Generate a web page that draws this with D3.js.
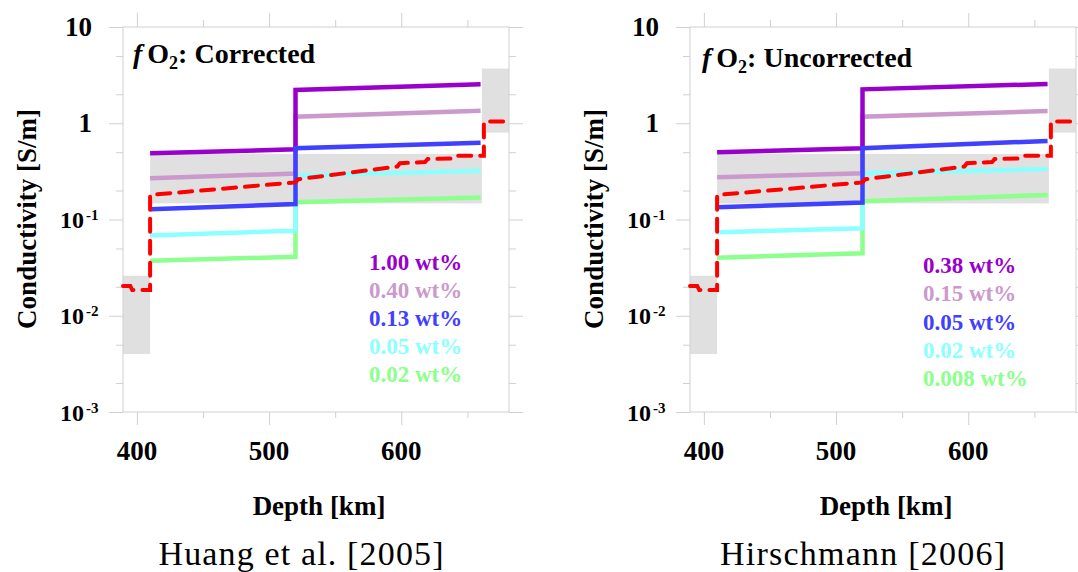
<!DOCTYPE html>
<html>
<head>
<meta charset="utf-8">
<script src="https://cdn.jsdelivr.net/npm/d3@7.9.0/dist/d3.min.js"></script>
<style>
  body { margin: 0; background: #fff; }
  svg { display: block; }
  text { font-family: "Liberation Serif", "Times New Roman", serif; }
</style>
</head>
<body>
<svg id="chart" width="1078" height="572"></svg>
<script>
// ---- data ----
const depthDomain = [389.5, 681.5];
const condDomain = [0.001, 10];
const depthTicks = [400, 450, 500, 550, 600, 650];
const depthLabels = [400, 500, 600];
const condMajor = [10, 1, 0.1, 0.01, 0.001];
const condMinor = [5, 2, 0.5, 0.2, 0.05, 0.02, 0.005, 0.002];
const condLabels = [["10", ""], ["1", ""], ["10", "-1"], ["10", "-2"], ["10", "-3"]];

// observed conductivity ranges (grey boxes)
const obsFrom = [389.5, 410, 661];
const obsTo = [410, 661, 681.5];
const obsLow = [0.004, 0.147, 0.80];
const obsHigh = [0.026, 0.48, 3.7];

// reference 1-D profile (red dashed)
const refDepth = [389.5, 395, 396.5, 410, 410, 520, 522, 597, 599, 618, 620, 641, 643, 662.5, 662.5, 681.5];
const refCond  = [0.0204, 0.0204, 0.0185, 0.0185, 0.18, 0.243, 0.262, 0.355, 0.385, 0.395, 0.425, 0.43, 0.46, 0.46, 1.04, 1.04];

// water content curves: values at 410, 520 (upper mantle), 520, 660 (wadsleyite)
const curveDepth = [410, 520, 520, 660];
const curveColors = ["#9900cc", "#cc99cc", "#4040ff", "#8cffff", "#8cff8c"];

const huangLabels = ["1.00 wt%", "0.40 wt%", "0.13 wt%", "0.05 wt%", "0.02 wt%"];
const huangPurple = [0.488, 0.536, 2.22, 2.54];
const huangPink   = [0.268, 0.300, 1.17, 1.35];
const huangBlue   = [0.128, 0.145, 0.55, 0.628];
const huangCyan   = [0.068, 0.0766, 0.286, 0.321];
const huangGreen  = [0.0373, 0.041, 0.151, 0.169];

const hirschLabels = ["0.38 wt%", "0.15 wt%", "0.05 wt%", "0.02 wt%", "0.008 wt%"];
const hirschPurple = [0.499, 0.55, 2.25, 2.56];
const hirschPink   = [0.274, 0.302, 1.17, 1.34];
const hirschBlue   = [0.134, 0.150, 0.55, 0.655];
const hirschCyan   = [0.0736, 0.081, 0.302, 0.335];
const hirschGreen  = [0.0401, 0.0445, 0.155, 0.18];

// ---- layout ----
const svg = d3.select("#chart");
const W = 386, yTop = 27, yBottom = 412;
const frameColor = "#d0d0d0";

const panels = [
  { x0: 123, title: "Corrected", titleX: 133, titleY: 63,
    labels: huangLabels, series: [huangPurple, huangPink, huangBlue, huangCyan, huangGreen],
    legX: 369, legY: 270, legStep: 28, caption: "Huang et al. [2005]", capX: 301 },
  { x0: 690, title: "Uncorrected", titleX: 702, titleY: 67,
    labels: hirschLabels, series: [hirschPurple, hirschPink, hirschBlue, hirschCyan, hirschGreen],
    legX: 923, legY: 273, legStep: 28.3, caption: "Hirschmann [2006]", capX: 862.5 }
];

panels.forEach(p => {
  const x = d3.scaleLinear().domain(depthDomain).range([p.x0, p.x0 + W]);
  const y = d3.scaleLog().domain(condDomain).range([yBottom, yTop]);
  const g = svg.append("g");

  // grey observation boxes
  g.selectAll("rect.obs").data(obsFrom).join("rect")
    .attr("class", "obs")
    .attr("x", d => x(d))
    .attr("width", (d, i) => x(obsTo[i]) - x(d))
    .attr("y", (d, i) => y(obsHigh[i]))
    .attr("height", (d, i) => y(obsLow[i]) - y(obsHigh[i]))
    .attr("fill", "#e0e0e0");

  // tick marks: [axis, transform, major values, all values, major len, minor len]
  const allCond = condMajor.concat(condMinor);
  const axes = [
    [d3.axisTop(x), `translate(0,${yTop})`, depthLabels, depthTicks, 14, 7],
    [d3.axisBottom(x), `translate(0,${yBottom})`, depthLabels, depthTicks, 13, 6],
    [d3.axisLeft(y), `translate(${p.x0},0)`, condMajor, allCond, 14, 7],
    [d3.axisRight(y), `translate(${p.x0 + W},0)`, condMajor, allCond, 14, 7]
  ];
  axes.forEach(([ax, tr, majorVals, allVals, lenMaj, lenMin]) => {
    const a = g.append("g").attr("transform", tr)
      .call(ax.tickValues(allVals).tickFormat("").tickSizeOuter(0)
        .tickSizeInner(0));
    a.select(".domain").remove();
    // axis generator sets x2/y2 for its direction; rescale per tick
    a.selectAll(".tick line").attr("stroke", frameColor)
      .each(function(d) {
        const len = majorVals.includes(d) ? lenMaj : lenMin;
        const sel = d3.select(this);
        if (ax === axes[0][0]) sel.attr("y2", -len);
        else if (ax === axes[1][0]) sel.attr("y2", len);
        else if (ax === axes[2][0]) sel.attr("x2", -len);
        else sel.attr("x2", len);
      });
  });

  // frame
  g.append("rect")
    .attr("x", p.x0).attr("y", yTop)
    .attr("width", W).attr("height", yBottom - yTop)
    .attr("fill", "none").attr("stroke", frameColor).attr("stroke-width", 1);

  // water content curves
  const line = d3.line().x((d, i) => x(curveDepth[i])).y(d => y(d));
  const order = [4, 3, 1, 0, 2];
  order.forEach(k => {
    g.append("path")
      .attr("d", line(p.series[k]))
      .attr("fill", "none")
      .attr("stroke", curveColors[k])
      .attr("stroke-width", 4.5);
  });

  // reference profile
  const refLine = d3.line().x((d, i) => x(refDepth[i])).y(d => y(d));
  g.append("path")
    .attr("d", refLine(refCond))
    .attr("fill", "none")
    .attr("stroke", "#ff0000")
    .attr("stroke-width", 4)
    .attr("stroke-dasharray", "13 9")
    .attr("stroke-linecap", "round");

  // y tick labels
  condMajor.forEach((v, i) => {
    const [base, sup] = condLabels[i];
    const t = g.append("text").attr("font-weight", "bold").attr("fill", "#000");
    if (sup === "") {
      t.attr("x", p.x0 - 31).attr("y", y(v) + 9).attr("text-anchor", "end")
        .attr("font-size", 27).text(base);
    } else {
      t.attr("x", p.x0 - 63).attr("y", y(v) + 8.5);
      t.append("tspan").attr("font-size", 24).text(base);
      t.append("tspan").attr("font-size", 15).attr("dx", 2).attr("dy", -8).text(sup);
    }
  });

  // x tick labels
  depthLabels.forEach(v => {
    g.append("text")
      .attr("x", x(v)).attr("y", 460)
      .attr("text-anchor", "middle")
      .attr("font-size", 27).attr("font-weight", "bold")
      .text(v);
  });

  // axis titles
  g.append("text")
    .attr("x", p.x0 + W / 2 + 3).attr("y", 515)
    .attr("text-anchor", "middle")
    .attr("font-size", 27).attr("font-weight", "bold")
    .text("Depth [km]");
  g.append("text")
    .attr("transform", `translate(${p.x0 - 87.5},219) rotate(-90)`)
    .attr("text-anchor", "middle")
    .attr("font-size", 27).attr("font-weight", "bold")
    .text("Conductivity [S/m]");

  // panel title
  const tt = g.append("text")
    .attr("x", p.titleX).attr("y", p.titleY)
    .attr("font-size", 28).attr("font-weight", "bold");
  tt.append("tspan").attr("font-style", "italic").text("f");
  tt.append("tspan").attr("dx", 5).text("O");
  tt.append("tspan").attr("font-size", 18).attr("dy", 6).text("2");
  tt.append("tspan").attr("dy", -6).text(": " + p.title);

  // legend
  p.labels.forEach((lab, i) => {
    g.append("text")
      .attr("x", p.legX).attr("y", p.legY + i * p.legStep)
      .attr("font-size", 23).attr("font-weight", "bold")
      .attr("fill", curveColors[i])
      .text(lab);
  });

  // caption
  g.append("text")
    .attr("x", p.capX - 142.5).attr("y", 565)
    .attr("font-size", 34)
    .attr("textLength", 285).attr("lengthAdjust", "spacing")
    .text(p.caption);
});
</script>
</body>
</html>
